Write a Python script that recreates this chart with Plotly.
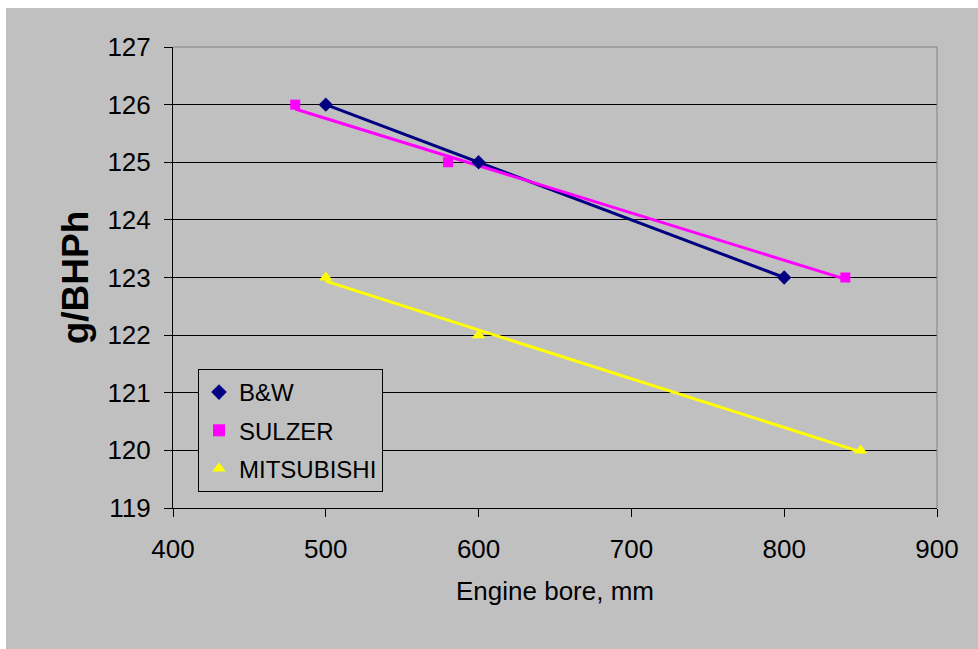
import numpy as np
import plotly.graph_objects as go

# ---- data ----
bw_x = [500, 600, 800]
bw_y = [126, 125, 123]
sulzer_x = [480, 580, 840]
sulzer_y = [126, 125, 123]
mitsu_x = [500, 600, 850]
mitsu_y = [123, 122, 120]

series_names = ["B&W", "SULZER", "MITSUBISHI"]
x_ticks = [400, 500, 600, 700, 800, 900]
y_ticks = [119, 120, 121, 122, 123, 124, 125, 126, 127]

colors = ["#000080", "#FF00FF", "#FFFF00"]
symbols = ["diamond", "square", "triangle-up"]
msizes = [11, 10, 12]

FONT = "Liberation Sans, Arial, sans-serif"
GRAY = "#C0C0C0"

W, H = 978, 649
L, R, T, B = 173, 41, 47, 141
pw, ph = W - L - R, H - T - B

fig = go.Figure()
datasets = [(bw_x, bw_y), (sulzer_x, sulzer_y), (mitsu_x, mitsu_y)]

# linear trendlines (least squares fit of each series)
for (xs, ys), c in zip(datasets, colors):
    k, b0 = np.polyfit(xs, ys, 1)
    xe = np.array([min(xs), max(xs)], dtype=float)
    fig.add_trace(go.Scatter(x=xe, y=k * xe + b0, mode="lines",
                             line=dict(color=c, width=3), showlegend=False,
                             hoverinfo="skip"))

for i, ((xs, ys), name, c, s, ms) in enumerate(zip(datasets, series_names, colors, symbols, msizes)):
    fig.add_trace(go.Scatter(x=xs, y=ys, mode="markers", name=name, legendgroup=f"g{i}",
                             marker=dict(color=c, symbol=s, size=ms, line=dict(width=0))))

def px_x(p):
    return (p - L) / pw

def px_y(p):
    return 1 - (p - T) / ph

shapes = [
    dict(type="rect", xref="paper", yref="paper", x0=px_x(0), x1=px_x(W), y0=px_y(8), y1=px_y(0),
         fillcolor="white", line=dict(width=0), layer="below"),
    dict(type="rect", xref="paper", yref="paper", x0=px_x(0), x1=px_x(6), y0=px_y(H), y1=px_y(0),
         fillcolor="white", line=dict(width=0), layer="below"),
    dict(type="line", xref="paper", yref="paper", x0=0, x1=1, y0=1, y1=1,
         line=dict(color="#808080", width=1), layer="above"),
    dict(type="line", xref="paper", yref="paper", x0=1, x1=1, y0=0, y1=1,
         line=dict(color="#808080", width=1), layer="above"),
]

fig.update_layout(
    width=W, height=H,
    margin=dict(l=L, r=R, t=T, b=B),
    paper_bgcolor=GRAY, plot_bgcolor=GRAY,
    font=dict(family=FONT, color="black", size=26),
    shapes=shapes,
    showlegend=True,
    legend=dict(x=px_x(198), y=px_y(369), xanchor="left", yanchor="top",
                bgcolor=GRAY, bordercolor="black", borderwidth=1,
                font=dict(size=24, family=FONT), tracegroupgap=4,
                itemsizing="constant"),
    xaxis=dict(range=[400, 900], tickvals=x_ticks, ticks="outside", ticklen=8,
               tickcolor="black", showline=True, linecolor="black", linewidth=1,
               showgrid=False, zeroline=False, tickfont=dict(size=26),
               ticklabelstandoff=10,
               title=dict(text="Engine bore, mm", font=dict(size=26), standoff=18)),
    yaxis=dict(range=[119, 127], tickvals=y_ticks, ticks="outside", ticklen=8,
               tickcolor="black", showline=True, linecolor="black", linewidth=1,
               showgrid=True, gridcolor="black", gridwidth=1, zeroline=False,
               tickfont=dict(size=26), ticklabelstandoff=8,
               title=dict(text="<b>g/BHPh</b>", font=dict(size=37), standoff=7)),
)

fig.write_html("out.html", config={"displayModeBar": False},
               post_script="document.body.style.margin='0';")
